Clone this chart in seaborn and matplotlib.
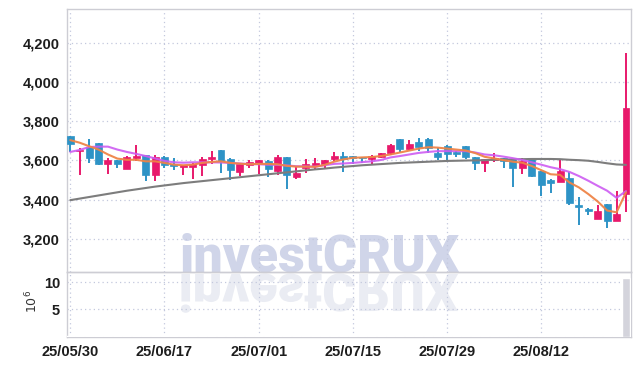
import numpy as np
import pandas as pd
import matplotlib
matplotlib.use("Agg")
import matplotlib.pyplot as plt
import seaborn as sns
from matplotlib.textpath import TextPath
from matplotlib.patches import PathPatch
from matplotlib.font_manager import FontProperties
from matplotlib.transforms import Affine2D
from matplotlib.ticker import FuncFormatter, FixedLocator

# ---------------- data ----------------
opens = [3723, 3647, 3669, 3686, 3583, 3602, 3558, 3613, 3625, 3524,
         3617, 3583, 3568, 3568, 3575, 3608, 3652, 3608, 3543, 3576,
         3588, 3597, 3546, 3617, 3516, 3563, 3571, 3583, 3607, 3620,
         3620, 3616, 3607, 3616, 3636, 3709, 3658, 3693, 3710, 3639,
         3674, 3644, 3673, 3615, 3588, 3602, 3610, 3605, 3562, 3610,
         3544, 3501, 3492, 3512, 3370, 3353, 3303, 3375, 3291, 3429]
highs = [3725, 3665, 3711, 3688, 3613, 3603, 3622, 3676, 3627, 3625,
         3622, 3610, 3578, 3585, 3617, 3647, 3654, 3613, 3585, 3600,
         3604, 3600, 3625, 3619, 3568, 3605, 3613, 3604, 3641, 3641,
         3622, 3618, 3625, 3639, 3683, 3711, 3704, 3712, 3712, 3661,
         3676, 3646, 3675, 3617, 3609, 3636, 3612, 3607, 3610, 3612,
         3546, 3503, 3600, 3541, 3411, 3355, 3370, 3377, 3445, 4150]
lows = [3642, 3524, 3588, 3576, 3529, 3560, 3556, 3597, 3496, 3496,
        3560, 3550, 3524, 3504, 3518, 3583, 3538, 3501, 3518, 3560,
        3529, 3513, 3524, 3454, 3504, 3538, 3555, 3560, 3598, 3539,
        3581, 3584, 3581, 3612, 3627, 3641, 3653, 3649, 3640, 3602,
        3595, 3615, 3605, 3552, 3540, 3591, 3562, 3465, 3532, 3515,
        3420, 3432, 3490, 3370, 3269, 3319, 3301, 3257, 3289, 3336]
closes = [3681, 3655, 3613, 3583, 3602, 3583, 3617, 3622, 3524, 3617,
          3575, 3570, 3576, 3583, 3608, 3618, 3597, 3550, 3583, 3592,
          3602, 3555, 3617, 3526, 3538, 3580, 3587, 3602, 3623, 3607,
          3614, 3612, 3623, 3636, 3678, 3658, 3683, 3666, 3662, 3618,
          3631, 3633, 3618, 3588, 3607, 3613, 3598, 3562, 3598, 3519,
          3474, 3487, 3546, 3381, 3361, 3341, 3344, 3291, 3328, 3865]

ma_short = [3703, 3690, 3672, 3655, 3630, 3609, 3603, 3603, 3595, 3595,
            3587, 3578, 3575, 3578, 3587, 3592, 3595, 3587, 3583, 3580,
            3582, 3582, 3580, 3572, 3568, 3568, 3567, 3577, 3593, 3605,
            3613, 3615, 3617, 3622, 3630, 3640, 3650, 3660, 3667, 3665,
            3660, 3655, 3650, 3637, 3618, 3610, 3601, 3593, 3588, 3571,
            3550, 3529, 3526, 3487, 3462, 3428, 3390, 3344, 3335, 3437]
ma_mid = [3643, 3653, 3668, 3670, 3670, 3655, 3643, 3633, 3622, 3610,
          3597, 3590, 3588, 3590, 3590, 3590, 3589, 3587, 3584, 3581,
          3580, 3578, 3577, 3574, 3570, 3569, 3568, 3575, 3582, 3584,
          3587, 3591, 3595, 3602, 3615, 3622, 3630, 3638, 3643, 3647,
          3647, 3647, 3647, 3640, 3630, 3626, 3619, 3611, 3602, 3590,
          3578, 3565, 3555, 3541, 3520, 3496, 3470, 3445, 3409, 3443]
ma_long = [3397, 3405, 3413, 3421, 3429, 3437, 3445, 3452, 3459, 3466,
           3472, 3478, 3484, 3489, 3494, 3499, 3504, 3509, 3514, 3519,
           3524, 3529, 3534, 3539, 3544, 3549, 3554, 3558, 3563, 3567,
           3571, 3575, 3578, 3581, 3584, 3587, 3589, 3591, 3593, 3595,
           3597, 3598, 3599, 3600, 3601, 3603, 3604, 3605, 3606, 3607,
           3607, 3607, 3606, 3603, 3601, 3598, 3592, 3585, 3579, 3577]

volume_m = [0.12, 0.10, 0.09, 0.11, 0.08, 0.07, 0.09, 0.10, 0.12, 0.10,
            0.08, 0.07, 0.06, 0.08, 0.09, 0.07, 0.10, 0.09, 0.07, 0.06,
            0.07, 0.08, 0.09, 0.11, 0.08, 0.06, 0.07, 0.07, 0.08, 0.09,
            0.06, 0.05, 0.06, 0.07, 0.10, 0.11, 0.09, 0.08, 0.09, 0.07,
            0.08, 0.06, 0.08, 0.09, 0.07, 0.06, 0.06, 0.10, 0.08, 0.09,
            0.12, 0.09, 0.10, 0.13, 0.12, 0.08, 0.09, 0.11, 0.12, 10.7]

tick_pos = [0, 10, 20, 30, 40, 50]
tick_labels = ["25/05/30", "25/06/17", "25/07/01", "25/07/15", "25/07/29", "25/08/12"]
price_ticks = [3200, 3400, 3600, 3800, 4000, 4200]
volume_ticks = [5, 10]
watermark = "investCRUX"

# ---------------- style ----------------
sns.set_theme(style="white")
plt.rcParams["font.family"] = ["Liberation Sans", "DejaVu Sans"]

UP = "#e8196b"
DOWN = "#2e93c6"
GRID = "#c3c8dd"
SPINE = "#cdcdd4"
TXT = "#1d1d1d"

df = pd.DataFrame({"idx": np.arange(len(opens)), "open": opens, "high": highs,
                   "low": lows, "close": closes, "ma_s": ma_short,
                   "ma_m": ma_mid, "ma_l": ma_long, "vol": volume_m})
df["up"] = df["close"] >= df["open"]
df["color"] = np.where(df["up"], UP, DOWN)
df["body_lo"] = df[["open", "close"]].min(axis=1)
df["body_h"] = np.maximum((df["close"] - df["open"]).abs(), 6)

W, H = 639, 366
fig = plt.figure(figsize=(W / 100, H / 100), dpi=100, facecolor="white")
L, R = 67 / W, 630.7 / W
ax = fig.add_axes([L, 1 - 272.3 / H, R - L, (272.3 - 9) / H])
axv = fig.add_axes([L, 1 - 336.7 / H, R - L, (336.7 - 272.3) / H], sharex=ax)
for a in (ax, axv):
    a.set_facecolor("none")

# watermark (behind axes content)
WM_SIZE = 37.5
fp = FontProperties(family="Roboto", weight="black")
fig.text(319.5 / W, 1 - 271.0 / H, watermark, fontproperties=fp, fontsize=WM_SIZE,
         color="#d0d5e9", ha="center", va="baseline", zorder=-5)
tp = TextPath((0, 0), watermark, size=WM_SIZE, prop=fp)
ext = tp.get_extents()
k = 100 / 72
cx_pix = 319.5
base_pix = H - 274.0
tr = Affine2D().translate(-(ext.x0 + ext.x1) / 2, 0).scale(k, -k).translate(cx_pix, base_pix)
fig.patches.append(PathPatch(tp, transform=tr, facecolor="#eaecf3", edgecolor="none",
                             zorder=-6, figure=fig))

# candles
ax.vlines(df["idx"], df["low"], df["high"], colors=df["color"], lw=1.4, zorder=2)
ax.bar(df["idx"], df["body_h"], bottom=df["body_lo"], width=0.74,
       color=df["color"], edgecolor=df["color"], lw=0.5, zorder=3)

# moving averages
sns.lineplot(data=df, x="idx", y="ma_l", ax=ax, color="#7d7d7d", lw=1.5, zorder=4)
sns.lineplot(data=df, x="idx", y="ma_m", ax=ax, color="#cd5cf2", lw=1.5, zorder=5, alpha=0.9)
sns.lineplot(data=df, x="idx", y="ma_s", ax=ax, color="#ef8447", lw=1.5, zorder=6, alpha=0.95)

# volume
axv.bar(df["idx"], df["vol"], width=0.95, color="#d4d4dc", zorder=3)

ax.set_xlim(-0.35, 59.5)
ax.set_ylim(3029, 4372)
axv.set_ylim(0, 11.8)

ax.yaxis.set_major_locator(FixedLocator(price_ticks))
ax.yaxis.set_major_formatter(FuncFormatter(lambda v, p: f"{v:,.0f}"))
axv.yaxis.set_major_locator(FixedLocator(volume_ticks))
axv.set_xticks(tick_pos)
axv.set_xticklabels(tick_labels)

for a in (ax, axv):
    a.grid(True, linestyle=(0, (1, 2.5)), color=GRID, lw=0.9, zorder=0)
    a.set_axisbelow(True)
    a.tick_params(length=0, labelsize=10.5, labelcolor=TXT, pad=5)
    for lab in a.get_xticklabels() + a.get_yticklabels():
        lab.set_fontweight("bold")
    for s in a.spines.values():
        s.set_color(SPINE)
        s.set_linewidth(1.0)
    a.set_xlabel("")
    a.set_ylabel("")
ax.tick_params(labelbottom=False)
axv.tick_params(axis="x", pad=6)

fig.text(32 / W, 1 - 301 / H, r"$10^6$", rotation=90, ha="center", va="center",
         fontsize=9, color="#333333", family="DejaVu Sans")

fig.savefig("out.png", dpi=100, facecolor="white")
